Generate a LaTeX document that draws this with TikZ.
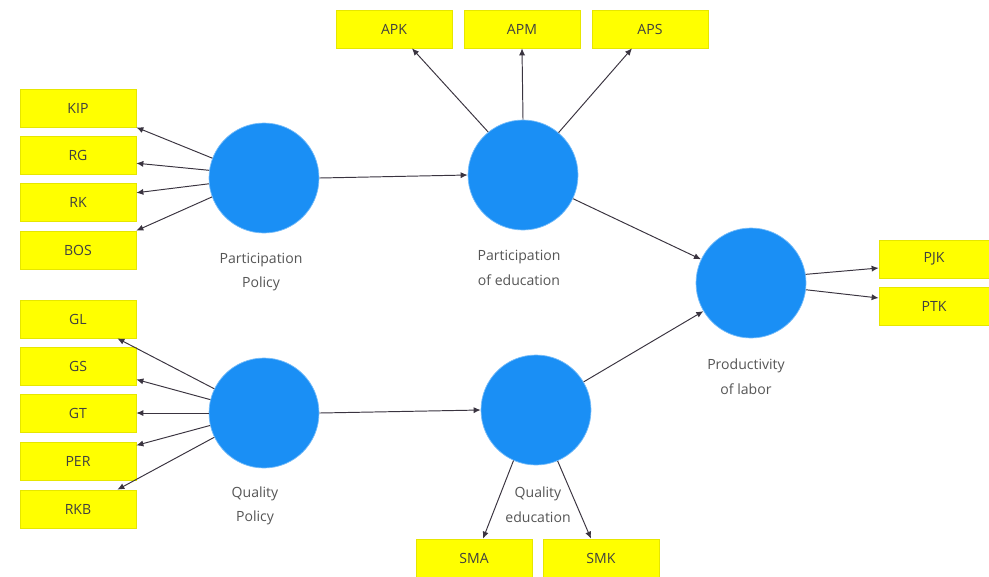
\documentclass[tikz,border=0pt]{standalone}
\usepackage{fontspec}
\setmainfont{Open Sans}
\usepackage{tikz}
\usetikzlibrary{arrows.meta, calc}
\usepackage{xcolor}
\definecolor{indyellow}{HTML}{FFFF00}
\definecolor{indedge}{HTML}{E6E600}
\definecolor{latblue}{HTML}{1A8FF5}
\definecolor{lblgray}{HTML}{555555}
\definecolor{arrgray}{HTML}{3A3440}

\begin{document}
\begin{tikzpicture}[
    x=0.02cm, y=-0.02cm,
    box/.style={draw=indedge, fill=indyellow, line width=0.4pt,
                minimum width=2.32cm, minimum height=0.76cm,
                inner sep=0pt, font=\fontsize{8}{10}\selectfont,
                text=black!75},
    latent/.style={circle, fill=latblue, draw=latblue!60,
                   minimum size=2.2cm, inner sep=0pt},
    lbl/.style={align=center, text=lblgray,
                font=\fontsize{8}{14}\selectfont},
    arr/.style={-{Latex[length=4pt, width=3.5pt]}, arrgray, line width=0.55pt}
  ]
    \useasboundingbox (0,0) rectangle (989,576);

    % latent variables
    \node[latent] (pp) at (264,178) {};
    \node[latent] (qp) at (264,413) {};
    \node[latent] (pe) at (523,175) {};
    \node[latent] (qe) at (536,410) {};
    \node[latent] (pl) at (751,283) {};

    \node[lbl] (pplbl) at (261,272) {Participation\\Policy};
    \node[lbl] (qplbl) at (255,506) {Quality\\Policy};
    \node[lbl] (pelbl) at (519,268) {Participation\\of education};
    \node[lbl] (qelbl) at (538,505) {Quality\\education};
    \node[lbl] (pllbl) at (746,377) {Productivity\\of labor};

    % indicators
    \node[box] (kip) at (78,108) {KIP};
    \node[box] (rg)  at (78,155) {RG};
    \node[box] (rk)  at (78,202) {RK};
    \node[box] (bos) at (78,250) {BOS};

    \node[box] (gl)  at (78,319) {GL};
    \node[box] (gs)  at (78,366) {GS};
    \node[box] (gt)  at (78,413) {GT};
    \node[box] (per) at (78,461) {PER};
    \node[box] (rkb) at (78,509) {RKB};

    \node[box] (apk) at (394,29) {APK};
    \node[box] (apm) at (522,29) {APM};
    \node[box] (aps) at (650,29) {APS};

    \node[box] (sma) at (474,558) {SMA};
    \node[box] (smk) at (601,558) {SMK};

    \node[box, minimum width=2.2cm] (pjk) at (934,259) {PJK};
    \node[box, minimum width=2.2cm] (ptk) at (934,306) {PTK};

    % outer loadings
    \draw[arr] (pp.159) -- (kip.south east);
    \draw[arr] (pp.172) -- (rg.-8);
    \draw[arr] (pp.186) -- (rk.9);
    \draw[arr] (pp.200) -- (bos.north east);

    \draw[arr] (qp.154) -- ($(gl.south east)+(-19,0)$);
    \draw[arr] (qp.166) -- (gs.-13);
    \draw[arr] (qp.180) -- (gt.east);
    \draw[arr] (qp.193) -- (per.15);
    \draw[arr] (qp.206) -- ($(rkb.north east)+(-19,0)$);

    \draw[arr] (pe.129) -- ($(apk.south)+(18,0)$);
    \draw[arr] (pe.90) -- (apm.south);
    \draw[arr] (pe.50) -- ($(aps.south)+(-18,0)$);

    \draw[arr] (qe.246) -- ($(sma.north)+(9,0)$);
    \draw[arr] (qe.293) -- ($(smk.north)+(-10,0)$);

    \draw[arr] (pl.9) -- ($(pjk.west)+(0,9)$);
    \draw[arr] (pl.-7) -- ($(ptk.west)+(0,-8)$);

    % inner paths
    \draw[arr] (pp.east) -- (pe.west);
    \draw[arr] (qp.east) -- (qe.west);
    \draw[arr] (pe) -- (pl);
    \draw[arr] (qe) -- (pl);
  \end{tikzpicture}
\end{document}
